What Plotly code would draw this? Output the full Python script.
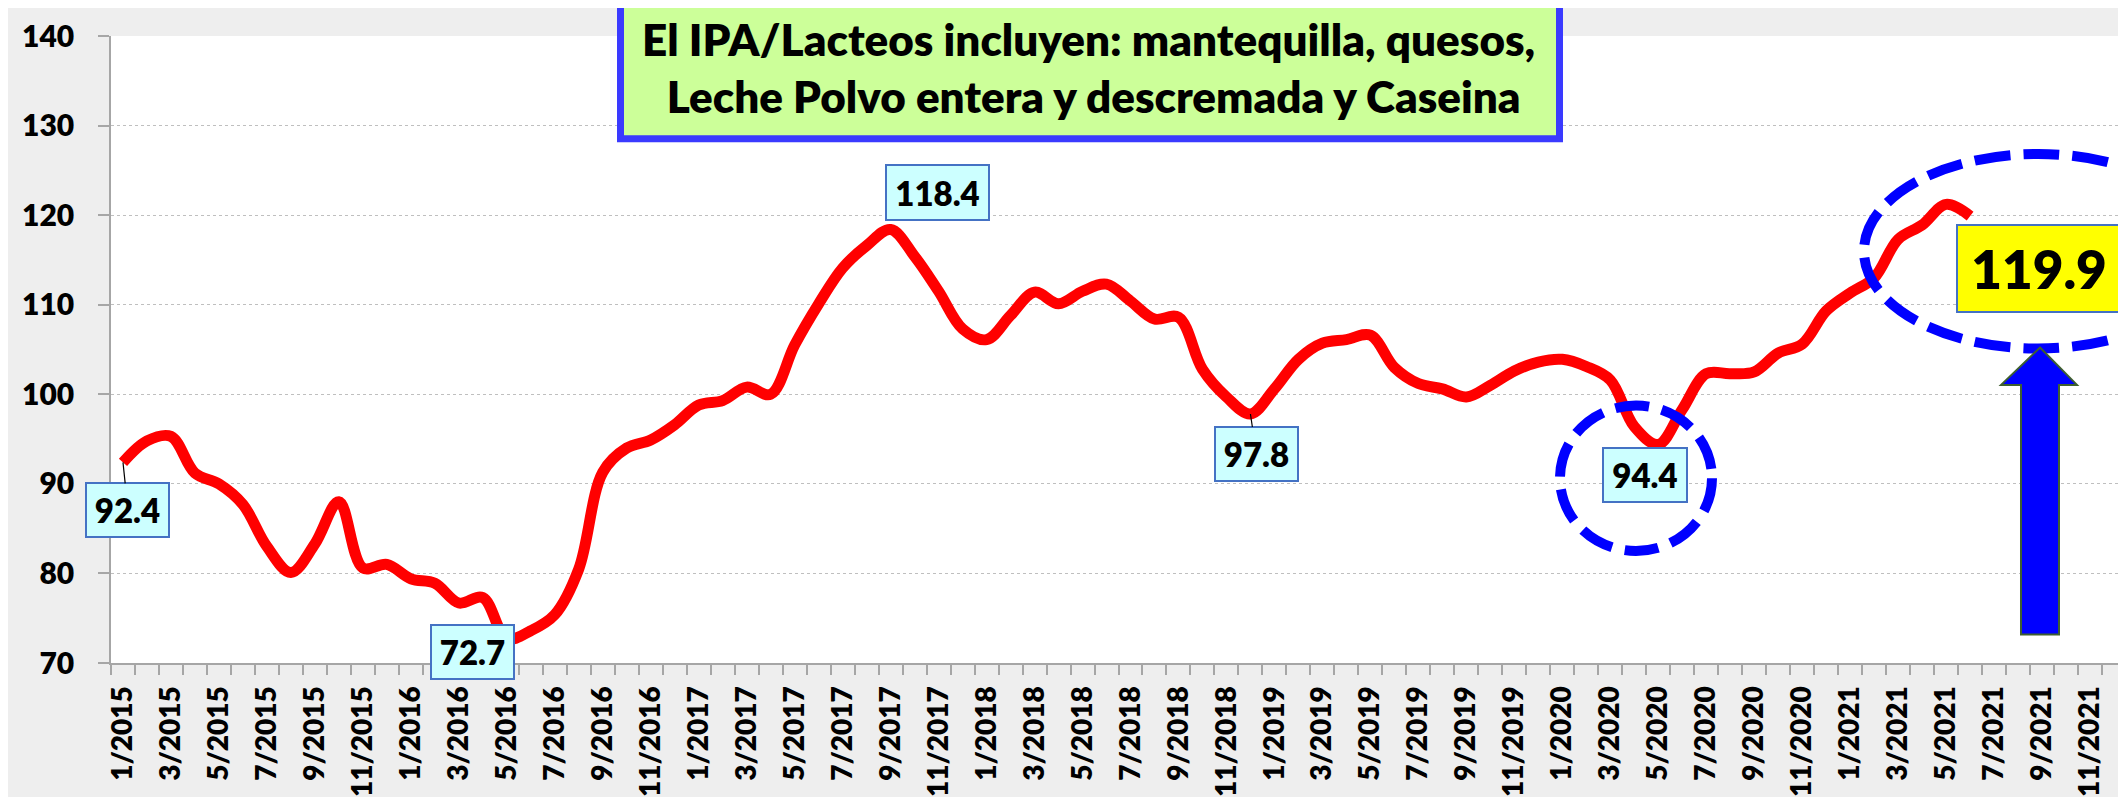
import plotly.graph_objects as go

# ---------------- data ----------------
month_labels = [
    "1/2015", "2/2015", "3/2015", "4/2015", "5/2015", "6/2015", "7/2015", "8/2015", "9/2015", "10/2015", "11/2015", "12/2015",
    "1/2016", "2/2016", "3/2016", "4/2016", "5/2016", "6/2016", "7/2016", "8/2016", "9/2016", "10/2016", "11/2016", "12/2016",
    "1/2017", "2/2017", "3/2017", "4/2017", "5/2017", "6/2017", "7/2017", "8/2017", "9/2017", "10/2017", "11/2017", "12/2017",
    "1/2018", "2/2018", "3/2018", "4/2018", "5/2018", "6/2018", "7/2018", "8/2018", "9/2018", "10/2018", "11/2018", "12/2018",
    "1/2019", "2/2019", "3/2019", "4/2019", "5/2019", "6/2019", "7/2019", "8/2019", "9/2019", "10/2019", "11/2019", "12/2019",
    "1/2020", "2/2020", "3/2020", "4/2020", "5/2020", "6/2020", "7/2020", "8/2020", "9/2020", "10/2020", "11/2020", "12/2020",
    "1/2021", "2/2021", "3/2021", "4/2021", "5/2021", "6/2021", "7/2021", "8/2021", "9/2021", "10/2021", "11/2021", "12/2021",
]

ipa_lacteos = [
    92.4, 94.8, 95.3, 91.2, 90.0, 87.7, 83.0, 80.1, 83.3, 88.0, 80.6, 81.0,
    79.4, 78.9, 76.7, 77.3, 72.7, 73.6, 75.4, 80.5, 91.3, 94.0, 94.9, 96.6,
    98.8, 99.3, 100.8, 100.0, 105.5, 110.1, 114.1, 116.6, 118.4, 115.4, 111.5, 107.3,
    106.1, 108.8, 111.4, 110.1, 111.5, 112.3, 110.4, 108.4, 108.6, 102.8, 99.7, 97.8,
    100.6, 103.9, 105.7, 106.1, 106.6, 103.0, 101.2, 100.6, 99.7, 101.0, 102.6, 103.6,
    103.9, 103.1, 101.6, 96.4, 94.4, 98.3, 102.3, 102.3, 102.5, 104.6, 105.6, 109.3,
    111.3, 113.0, 117.3, 118.9, 121.2, 119.9,
]

y_ticks = [70, 80, 90, 100, 110, 120, 130, 140]

title_text = "El IPA/Lacteos incluyen: mantequilla, quesos,<br>\u00a0Leche Polvo entera y descremada y Caseina"

# ---------------- geometry helpers ----------------
W, H = 2126, 797
L, R, T, B = 103, 8, 24, 135
PW, PH = W - L - R, H - T - B
N_CAT = len(month_labels)
Y0, Y1 = 70, 140


def px2x(px):
    return (px - L) / PW * N_CAT - 0.5


def py2y(py):
    return Y0 + (H - B - py) / PH * (Y1 - Y0)


def px2p(px):
    return (px - L) / PW


def py2p(py):
    return (H - B - py) / PH


x_idx = list(range(len(ipa_lacteos)))

fig = go.Figure()
fig.add_trace(go.Scatter(
    x=x_idx, y=ipa_lacteos, mode="lines",
    line=dict(color="#FF0000", width=11, shape="spline", smoothing=1.0),
    hoverinfo="skip", showlegend=False,
))

BOLD = dict(family="Lato", weight=800, color="black")

fig.update_layout(
    width=W, height=H, autosize=False,
    margin=dict(l=L, r=R, t=T, b=B, pad=0),
    paper_bgcolor="#EEEEEE", plot_bgcolor="white",
    showlegend=False,
    xaxis=dict(
        range=[-0.5, N_CAT - 0.5],
        tickmode="array",
        tickvals=list(range(0, N_CAT, 2)),
        ticktext=month_labels[0::2],
        tickangle=-90,
        ticks="outside", ticklen=10, tickcolor="rgba(0,0,0,0)",
        tickfont=dict(size=28, **BOLD),
        showgrid=False, zeroline=False,
        showline=True, linecolor="#A6A6A6", linewidth=2,
        minor=dict(tickmode="array", tickvals=[k - 0.5 for k in range(N_CAT + 1)],
                   ticks="outside", ticklen=10, tickwidth=1.5, tickcolor="#A6A6A6", showgrid=False),
        fixedrange=True,
    ),
    yaxis=dict(
        range=[Y0, Y1],
        tickmode="array", tickvals=y_ticks,
        ticks="outside", ticklen=11, tickwidth=1.5, tickcolor="#A6A6A6",
        tickfont=dict(size=30, **BOLD),
        ticklabelstandoff=18,
        showgrid=True, gridcolor="#BFBFBF", griddash="dot", gridwidth=1,
        zeroline=False,
        showline=True, linecolor="#A6A6A6", linewidth=1.5,
        fixedrange=True,
    ),
)

shapes = []
# title box
shapes.append(dict(type="rect", xref="paper", yref="paper", layer="above",
                   x0=px2p(612.5), x1=px2p(1551.5), y0=py2p(128.5), y1=py2p(-10),
                   fillcolor="#CCFF99", line=dict(color="#3A3AFF", width=7)))
# small dashed ellipse around 94.4
shapes.append(dict(type="circle", xref="paper", yref="paper", layer="above",
                   x0=px2p(1552), x1=px2p(1704), y0=py2p(548), y1=py2p(400),
                   line=dict(color="#0000FF", width=10, dash="34px,13px")))
# big dashed ellipse around last value
shapes.append(dict(type="circle", xref="paper", yref="paper", layer="above",
                   x0=px2p(1856), x1=px2p(2204), y0=py2p(342), y1=py2p(144),
                   line=dict(color="#0000FF", width=10, dash="36px,13px")))
# blue block arrow
arrow_px = [(2032, 341), (2069, 379), (2051, 379), (2051, 633), (2013, 633), (2013, 379), (1993, 379)]
path = "M " + " L ".join(f"{px2p(a):.5f},{py2p(b):.5f}" for a, b in arrow_px) + " Z"
shapes.append(dict(type="path", xref="paper", yref="paper", layer="above", path=path,
                   fillcolor="#0000FF", line=dict(color="#3F5F2F", width=2)))
fig.update_layout(shapes=shapes)

annotations = []
annotations.append(dict(xref="paper", yref="paper", x=px2p(1080), y=py2p(56),
                        xanchor="center", yanchor="middle", showarrow=False,
                        text=title_text, align="center",
                        font=dict(size=44, **BOLD)))

label_style = dict(bgcolor="#CCFFFF", bordercolor="#4472C4", borderwidth=2, borderpad=1,
                   font=dict(size=33, **BOLD))
# labels with leader lines (point index, box centre offset in px)
for idx, dx, dy, w, h in [(0, 5, 48, 79, 50), (47, 6, 40, 79, 50)]:
    annotations.append(dict(x=idx, y=ipa_lacteos[idx], xref="x", yref="y",
                            text=f"{ipa_lacteos[idx]:.1f}", showarrow=True, arrowhead=0,
                            arrowwidth=1.2, arrowcolor="black", standoff=0,
                            ax=dx, ay=dy, width=w, height=h, **label_style))
# labels without leader lines (point index, box centre in px)
for idx, cx, cy, w, h in [(16, 464, 651, 79, 50), (32, 929.5, 183.5, 99, 51), (64, 1637, 471, 80, 50)]:
    annotations.append(dict(x=px2x(cx), y=py2y(cy), xref="x", yref="y",
                            text=f"{ipa_lacteos[idx]:.1f}", showarrow=False,
                            width=w, height=h, **label_style))
# highlighted last value
last = len(ipa_lacteos) - 1
annotations.append(dict(x=px2x(2031), y=py2y(260.5), xref="x", yref="y",
                        text=f"{ipa_lacteos[last]:.1f}", showarrow=False,
                        width=160, height=83, bgcolor="#FFFF00", bordercolor="#4472C4",
                        borderwidth=2, borderpad=1, font=dict(size=53, **BOLD)))
fig.update_layout(annotations=annotations)

fig.write_html("out.html", config=dict(displayModeBar=False))
